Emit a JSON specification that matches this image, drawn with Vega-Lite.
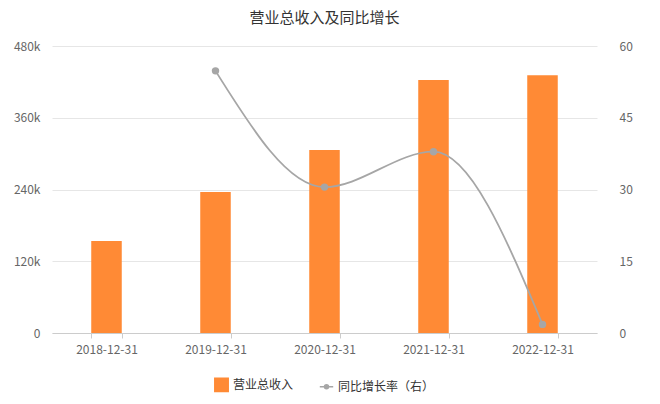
{
  "$schema": "https://vega.github.io/schema/vega-lite/v6.json",
  "width": 545,
  "height": 287,
  "autosize": "none",
  "padding": {"left": 52, "top": 46, "right": 63, "bottom": 71},
  "background": "white",
  "config": {
    "font": "Noto Sans CJK SC",
    "view": {"stroke": null},
    "axis": {"labelFont": "Noto Sans CJK SC", "labelColor": "#666666", "labelFontSize": 12},
    "legend": {"layout": {"bottom": {"anchor": "middle"}}}
  },
  "title": {
    "text": "营业总收入及同比增长",
    "fontSize": 15,
    "fontWeight": "normal",
    "color": "#333333",
    "anchor": "middle",
    "offset": 14,
    "font": "Noto Sans CJK SC"
  },
  "data": {
    "values": [
      {"year": "2018-12-31", "revenue": 154000, "growth": null},
      {"year": "2019-12-31", "revenue": 236000, "growth": 54.8},
      {"year": "2020-12-31", "revenue": 306000, "growth": 30.5},
      {"year": "2021-12-31", "revenue": 423000, "growth": 37.9},
      {"year": "2022-12-31", "revenue": 431000, "growth": 1.8}
    ]
  },
  "encoding": {
    "x": {
      "field": "year",
      "type": "ordinal",
      "title": null,
      "scale": {"paddingInner": 0.72, "paddingOuter": 0.36},
      "axis": {
        "labelAngle": 0,
        "domainColor": "#cccccc",
        "tickColor": "#cccccc",
        "tickSize": 5,
        "tickBand": "extent",
        "labelPadding": 6,
        "grid": false
      }
    }
  },
  "layer": [
    {
      "mark": {"type": "bar", "color": "#ff8a35"},
      "encoding": {
        "y": {
          "field": "revenue",
          "type": "quantitative",
          "title": null,
          "scale": {"domain": [0, 480000]},
          "axis": {
            "values": [0, 120000, 240000, 360000, 480000],
            "labelExpr": "datum.value === 0 ? '0' : format(datum.value / 1000, 'd') + 'k'",
            "domain": false,
            "ticks": false,
            "labelPadding": 12,
            "gridColor": "#e6e6e6"
          }
        },
        "color": {
          "datum": "营业总收入",
          "type": "nominal",
          "scale": {"domain": ["营业总收入", "同比增长率（右）"], "range": ["#ff8a35", "#a6a6a6"]},
          "legend": {
            "title": null,
            "orient": "bottom",
            "direction": "horizontal",
            "offset": 22,
            "labelFontSize": 12,
            "labelColor": "#333333",
            "labelFont": "Noto Sans CJK SC",
            "symbolSize": 180,
            "columnPadding": 22,
            "encode": {
              "symbols": {
                "update": {
                  "shape": {"signal": "datum.value === '营业总收入' ? 'square' : 'M-1,0H-0.3M0.3,0H1M-0.3,0A0.3,0.3 0 1,0 0.3,0A0.3,0.3 0 1,0 -0.3,0'"},
                  "stroke": {"signal": "datum.value === '营业总收入' ? '#ff8a35' : '#a6a6a6'"},
                  "fill": {"signal": "datum.value === '营业总收入' ? '#ff8a35' : '#a6a6a6'"},
                  "strokeWidth": {"value": 1.5},
                  "opacity": {"value": 1}
                }
              }
            }
          }
        }
      }
    },
    {
      "transform": [{"filter": "datum.growth != null"}],
      "layer": [
        {
          "mark": {"type": "line", "interpolate": "monotone", "color": "#a6a6a6", "strokeWidth": 1.8},
          "encoding": {
            "y": {
              "field": "growth",
              "type": "quantitative",
              "title": null,
              "scale": {"domain": [0, 60]},
              "axis": {
                "orient": "right",
                "values": [0, 15, 30, 45, 60],
                "domain": false,
                "ticks": false,
                "grid": false,
                "labelPadding": 22
              }
            }
          }
        },
        {
          "mark": {"type": "point", "filled": true, "color": "#a6a6a6", "size": 55, "opacity": 1},
          "encoding": {
            "y": {"field": "growth", "type": "quantitative"},
            "color": {"datum": "同比增长率（右）", "type": "nominal"}
          }
        }
      ]
    }
  ],
  "resolve": {"scale": {"y": "independent"}}
}
